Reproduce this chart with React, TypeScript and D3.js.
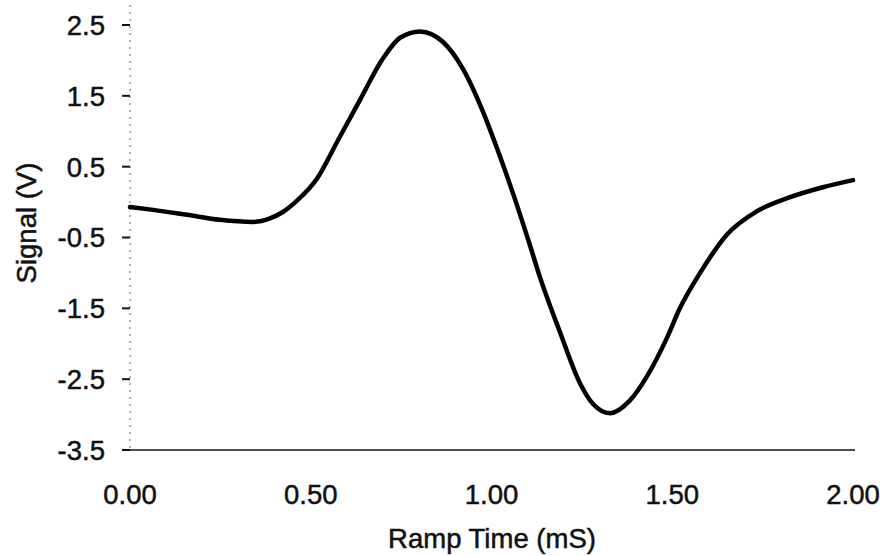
import React from "react";
import * as d3 from "d3";

const timeMs = [0, 0.064, 0.158, 0.249, 0.34, 0.387, 0.423, 0.462, 0.517, 0.575, 0.636, 0.70, 0.747, 0.802, 0.866, 0.921, 0.976, 1.018, 1.059, 1.107, 1.134, 1.189, 1.245, 1.281, 1.328, 1.383, 1.43, 1.485, 1.521, 1.577, 1.651, 1.734, 1.826, 1.917, 2.0];
const signalV = [-0.07, -0.11, -0.18, -0.25, -0.28, -0.23, -0.14, 0.02, 0.33, 0.87, 1.44, 2.03, 2.32, 2.41, 2.26, 1.88, 1.28, 0.72, 0.13, -0.62, -1.06, -1.83, -2.56, -2.85, -2.98, -2.80, -2.46, -1.92, -1.50, -1.0, -0.46, -0.13, 0.07, 0.21, 0.31];
const xTicks = [0, 0.5, 1.0, 1.5, 2.0];
const yTicks = [2.5, 1.5, 0.5, -0.5, -1.5, -2.5, -3.5];
const xTitle = "Ramp Time (mS)";
const yTitle = "Signal (V)";

export default function App() {
  const W = 888, H = 556;
  const left = 130, right = 853, top = 25, bottom = 450;
  const x = d3.scaleLinear().domain([0, 2]).range([left, right]);
  const y = d3.scaleLinear().domain([-3.5, 2.5]).range([bottom, top]);
  const data = timeMs.map((t, i) => [t, signalV[i]] as [number, number]);
  const line = d3.line<[number, number]>().x(d => x(d[0])).y(d => y(d[1])).curve(d3.curveMonotoneX);
  const font = "Arial, 'Liberation Sans', Helvetica, sans-serif";
  const txt = { fontSize: 27.5, fill: "#111", stroke: "#111", strokeWidth: 0.5 } as const;
  return (
    <svg width={W} height={H} style={{ position: "absolute", left: 0, top: 0, background: "#fff" }} fontFamily={font}>
      <line x1={left} x2={left} y1={5} y2={bottom} stroke="#666" strokeWidth={1} strokeDasharray="2,5" />
      <line x1={left - 5} x2={855} y1={bottom} y2={bottom} stroke="#111" strokeWidth={1.5} />
      {yTicks.map(v => (
        <g key={v}>
          <line x1={left - 8} x2={left} y1={y(v)} y2={y(v)} stroke="#111" strokeWidth={2} />
          <text x={105} y={y(v)} dy="0.36em" textAnchor="end" {...txt}>{v.toFixed(1)}</text>
        </g>
      ))}
      {xTicks.map(v => (
        <text key={v} x={x(v)} y={504} textAnchor="middle" {...txt}>{v.toFixed(2)}</text>
      ))}
      <text x={492} y={548} textAnchor="middle" {...txt}>{xTitle}</text>
      <text transform={`translate(36,223) rotate(-90)`} textAnchor="middle" {...txt}>{yTitle}</text>
      <path d={line(data) || ""} fill="none" stroke="#000" strokeWidth={4.5} strokeLinecap="round" strokeLinejoin="round" />
    </svg>
  );
}
